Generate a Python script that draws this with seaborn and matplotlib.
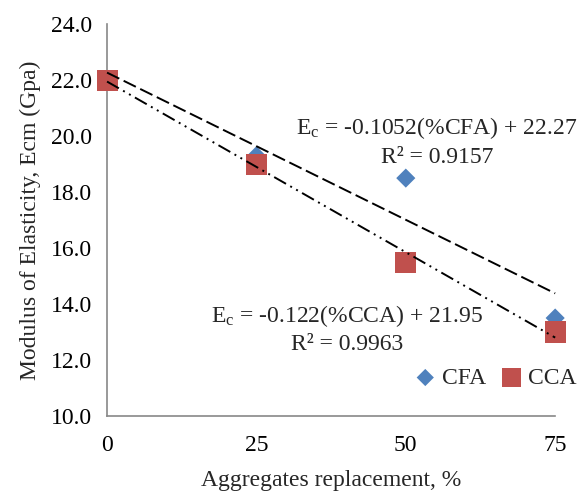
import numpy as np
import pandas as pd
import matplotlib
matplotlib.use("Agg")
import matplotlib.pyplot as plt
import seaborn as sns

# data
replacement = [0, 25, 50, 75]
cfa_values = [22.0, 19.3, 18.5, 13.5]
cca_values = [22.0, 19.0, 15.5, 13.0]
x_ticks = [0, 25, 50, 75]
y_ticks = [10.0, 12.0, 14.0, 16.0, 18.0, 20.0, 22.0, 24.0]

df = pd.DataFrame({
    "x": replacement * 2,
    "y": cfa_values + cca_values,
    "mix": ["CFA"] * 4 + ["CCA"] * 4,
})

sns.set_style("white")
plt.rcParams["font.family"] = ["Liberation Serif", "DejaVu Serif"]
plt.rcParams["mathtext.fontset"] = "custom"
plt.rcParams["mathtext.rm"] = "Liberation Serif"
plt.rcParams["mathtext.it"] = "Liberation Serif"

FS = 17
fig = plt.figure(figsize=(5.85, 4.94), dpi=100)
ax = fig.add_axes([0.183, 0.158, 0.766, 0.793])

colors = {"CFA": "#4F81BD", "CCA": "#C0504D"}
sns.scatterplot(data=df[df.mix == "CFA"], x="x", y="y", color=colors["CFA"],
                marker="D", s=95, edgecolor="none", ax=ax, label="CFA", zorder=2,
                clip_on=False)
sns.scatterplot(data=df[df.mix == "CCA"], x="x", y="y", color=colors["CCA"],
                marker="s", s=230, edgecolor="none", ax=ax, label="CCA", zorder=3,
                clip_on=False)

# linear trend lines
xs = np.array([replacement[0], replacement[-1]])
k1, b1 = np.polyfit(replacement, cfa_values, 1)
k2, b2 = np.polyfit(replacement, cca_values, 1)
ax.plot(xs, k1 * xs + b1, color="black", lw=1.4, dashes=(7, 2.5), zorder=4, clip_on=False)
ax.plot(xs, k2 * xs + b2, color="black", lw=1.4, dashes=(7, 2.5, 1, 2.5, 1, 2.5),
        zorder=4, clip_on=False)

ax.text(55.2, 20.3, r"E$_\mathregular{c}$ = -0.1052(%CFA) + 22.27", fontsize=FS, ha="center", va="center")
ax.text(55.2, 19.25, "R² = 0.9157", fontsize=FS, ha="center", va="center")
ax.text(40.2, 13.57, r"E$_\mathregular{c}$ = -0.122(%CCA) + 21.95", fontsize=FS, ha="center", va="center")
ax.text(40.2, 12.54, "R² = 0.9963", fontsize=FS, ha="center", va="center")

ax.set_xlim(0, 75)
ax.set_ylim(10, 24)
ax.set_xticks(x_ticks)
ax.set_yticks(y_ticks)
ax.set_yticklabels([f"{v:.1f}" for v in y_ticks])
ax.tick_params(axis="both", labelsize=FS, colors="black", length=6, width=1.2,
               color="#888888", direction="out", pad=5)
ax.tick_params(axis="x", pad=8)
for side in ["top", "right"]:
    ax.spines[side].set_visible(False)
for side in ["left", "bottom"]:
    ax.spines[side].set_color("#888888")
    ax.spines[side].set_linewidth(1.2)

ax.set_xlabel("Aggregates replacement, %", fontsize=FS, labelpad=10)
ax.set_ylabel("Modulus of Elasticity, Ecm (Gpa)", fontsize=FS, labelpad=7)

ax.legend(loc="center", bbox_to_anchor=(0.853, 0.097), ncol=2, frameon=False,
          fontsize=FS, handletextpad=-0.3, columnspacing=0.1, markerscale=0.9)

fig.savefig("out.png", dpi=100)
